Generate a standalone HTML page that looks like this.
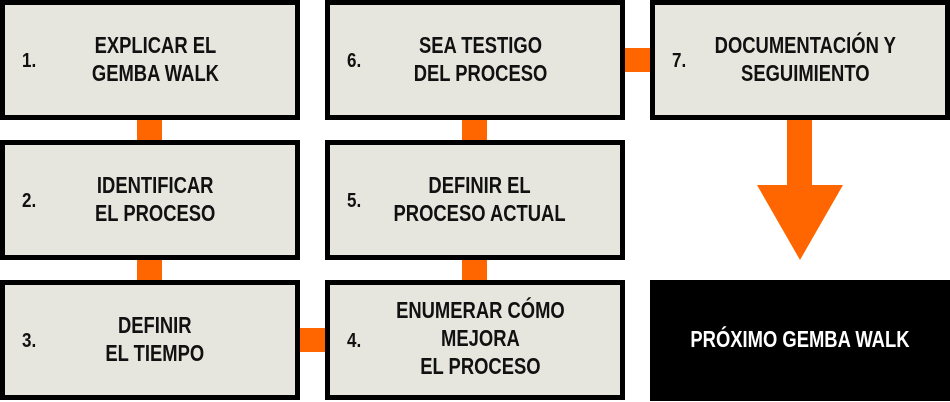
<!DOCTYPE html>
<html><head><meta charset="utf-8"><style>
body{margin:0;width:950px;height:401px;background:#fff;position:relative;overflow:hidden;font-family:"Liberation Sans",sans-serif;font-weight:bold;}
.b{position:absolute;width:290px;height:110px;border:5px solid #000;background:#e7e6de;}
.n{position:absolute;left:17px;font-size:20px;color:#111;transform:scaleX(0.85);transform-origin:left}
.t{position:absolute;left:0;width:300px;text-align:center;color:#111;}
.t span{display:inline-block;font-size:23px;line-height:28px;transform:scaleX(0.8);white-space:nowrap}
.o{position:absolute;background:#ff6600;}
</style></head><body>
<div class="o" style="left:137px;top:118px;width:25px;height:24px"></div>
<div class="o" style="left:137px;top:258px;width:25px;height:24px"></div>
<div class="o" style="left:462px;top:118px;width:25px;height:24px"></div>
<div class="o" style="left:462px;top:258px;width:25px;height:24px"></div>
<div class="o" style="left:298px;top:328px;width:29px;height:24px"></div>
<div class="o" style="left:623px;top:48px;width:29px;height:24px"></div>
<div class="o" style="left:787px;top:118px;width:25px;height:68px"></div>
<svg style="position:absolute;left:757px;top:185px" width="86" height="75"><polygon points="0,0 86,0 43,75" fill="#ff6600"/></svg>

<div class="b" style="left:0;top:0"><div class="n" style="top:45px">1.</div><div class="t" style="top:26px"><span>EXPLICAR EL<br>GEMBA WALK</span></div></div>
<div class="b" style="left:0;top:140px"><div class="n" style="top:45px">2.</div><div class="t" style="top:26px"><span>IDENTIFICAR<br>EL PROCESO</span></div></div>
<div class="b" style="left:0;top:280px"><div class="n" style="top:45px">3.</div><div class="t" style="top:26px"><span>DEFINIR<br>EL TIEMPO</span></div></div>
<div class="b" style="left:325px;top:280px"><div class="n" style="top:45px">4.</div><div class="t" style="top:11px"><span>ENUMERAR CÓMO<br>MEJORA<br>EL PROCESO</span></div></div>
<div class="b" style="left:325px;top:140px"><div class="n" style="top:45px">5.</div><div class="t" style="top:26px"><span>DEFINIR EL<br>PROCESO ACTUAL</span></div></div>
<div class="b" style="left:325px;top:0"><div class="n" style="top:45px">6.</div><div class="t" style="top:26px"><span>SEA TESTIGO<br>DEL PROCESO</span></div></div>
<div class="b" style="left:650px;top:0"><div class="n" style="top:45px">7.</div><div class="t" style="top:26px"><span>DOCUMENTACIÓN Y<br>SEGUIMIENTO</span></div></div>
<div style="position:absolute;left:650px;top:280px;width:300px;height:121px;background:#000;color:#fff;text-align:center;line-height:118px"><span style="display:inline-block;font-size:23px;transform:scaleX(0.8);white-space:nowrap">PRÓXIMO GEMBA WALK</span></div>
</body></html>
